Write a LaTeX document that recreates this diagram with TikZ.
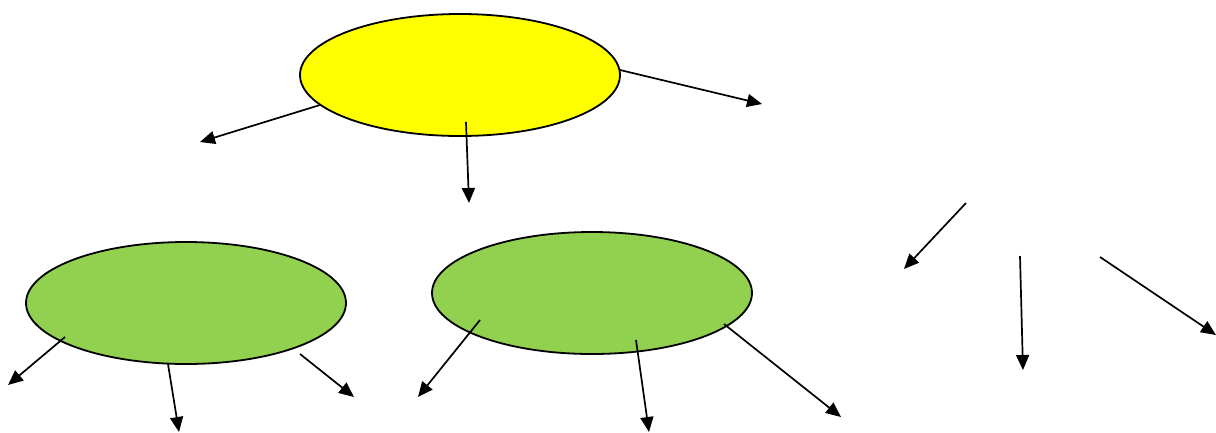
\documentclass[tikz,border=0pt]{standalone}
\usetikzlibrary{shapes.geometric,arrows.meta}
\definecolor{leafgreen}{HTML}{92D050}
\definecolor{sunyellow}{HTML}{FFFF00}
\tikzset{
  bubble/.style={ellipse, draw=black, line width=1.8pt, minimum width=320pt, minimum height=122pt, inner sep=0pt},
  link/.style={line width=1.7pt, -{Triangle[length=15pt,width=13pt]}}
}
\begin{document}
\begin{tikzpicture}[x=1pt,y=1pt,yscale=-1]
\useasboundingbox (0,0) rectangle (1216,432);
%Shape: Ellipse [top]
\node [bubble, fill=sunyellow] (top) at (460,75) {};
%Shape: Ellipse [left]
\node [bubble, fill=leafgreen] (left) at (186,303) {};
%Shape: Ellipse [mid]
\node [bubble, fill=leafgreen] (mid) at (592,293) {};
% Ends of the connectors
\coordinate (t1) at (320,105); \coordinate (t1e) at (200,142);
\coordinate (t2) at (466,122); \coordinate (t2e) at (469,203);
\coordinate (t3) at (620,70);  \coordinate (t3e) at (762,104);
\coordinate (l1) at (65,337);  \coordinate (l1e) at (8,385);
\coordinate (l2) at (168,364); \coordinate (l2e) at (179,432);
\coordinate (l3) at (300,354); \coordinate (l3e) at (354,397);
\coordinate (m1) at (480,320); \coordinate (m1e) at (418,397);
\coordinate (m2) at (636,340); \coordinate (m2e) at (649,432);
\coordinate (m3) at (724,324); \coordinate (m3e) at (841,417);
\coordinate (r1) at (966,203); \coordinate (r1e) at (904,269);
\coordinate (r2) at (1020,256); \coordinate (r2e) at (1023,370);
\coordinate (r3) at (1100,257); \coordinate (r3e) at (1216,335);
% Straight Lines with arrows
\foreach \s in {t1,t2,t3,l1,l2,l3,m1,m2,m3,r1,r2,r3}
  \draw [link] (\s) -- (\s e);
\end{tikzpicture}
\end{document}
